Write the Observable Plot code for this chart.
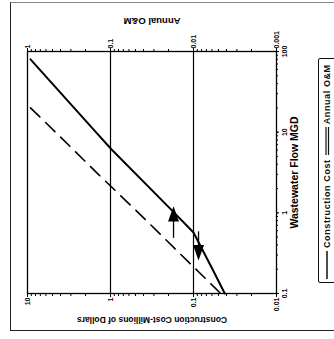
<!DOCTYPE html>
<html><head><meta charset="utf-8">
<script src="https://cdn.jsdelivr.net/npm/d3@7"></script>
<script src="https://cdn.jsdelivr.net/npm/@observablehq/plot@0.6"></script>
<style>
html,body{margin:0;padding:0;background:#fff;}
#page{position:relative;width:334px;height:339px;overflow:hidden;background:#fff;}
#rot{position:absolute;left:0;top:0;width:339px;height:334px;transform-origin:0 0;transform:translate(0px,339px) rotate(-90deg);font-family:"Liberation Sans",Arial,sans-serif;}
#border{position:absolute;left:8px;top:10px;width:329px;height:340px;border-top:1.5px solid #222;border-left:1.5px solid #222;border-right:1px solid #888;box-sizing:border-box;pointer-events:none;}
#chart{position:absolute;left:0;top:0;}
#legend{position:absolute;left:56px;top:318px;width:225px;height:24px;border:1.3px solid #111;border-radius:2px;box-sizing:border-box;display:flex;align-items:center;padding:0 0 6px 3px;font-size:9px;font-weight:bold;letter-spacing:0.6px;color:#111;background:#fff;overflow:hidden;}
#legend span{white-space:nowrap;}
#legend svg{display:block;flex:none;}
</style>
</head><body>
<div id="page"><div id="rot"><div id="chart"></div><div id="legend"></div><div id="border"></div></div></div>
<script>
// Wastewater flow (MGD) vs construction cost (millions of dollars)
const costFlow = [80, 10, 6.1, 1, 0.57, 0.2, 0.1];
const constructionCost = [9.2, 1.5, 0.97, 0.17, 0.1, 0.059, 0.042];
// Wastewater flow (MGD) vs annual O&M (millions of dollars)
const omFlow = [20, 10, 3, 1, 0.3, 0.1];
const annualOM = [0.92, 0.46, 0.14, 0.046, 0.014, 0.0047];
// indicator arrows: position on cost axis, flow from -> to
const arrowPos = [0.174, 0.087];
const arrowFrom = [0.49, 0.59];
const arrowTo = [0.97, 0.32];
// ticks
const flowTicks = [0.1, 1, 10, 100];
const costTicks = [0.01, 0.1, 1, 10];
const costTickLabels = ["0.01", "0.1", "1", "10"];
const omTickLabels = ["0.001", "0.01", "0.1", "1"];
const costGrid = [0.1, 1];
const seriesNames = ["Construction Cost", "Annual O&M"];

const costRows = costFlow.map((f, i) => ({flow: f, value: constructionCost[i]}));
const omRows = omFlow.map((f, i) => ({flow: f, value: annualOM[i]}));
const arrowRows = arrowPos.map((p, i) => ({pos: p, from: arrowFrom[i], to: arrowTo[i]}));

const triRight = {draw(ctx, size){const s=Math.sqrt(size/Math.PI); ctx.moveTo(1.4*s,0); ctx.lineTo(-1.4*s,-s); ctx.lineTo(-1.4*s,s); ctx.closePath();}};
const triLeft = {draw(ctx, size){const s=Math.sqrt(size/Math.PI); ctx.moveTo(-1.4*s,0); ctx.lineTo(1.4*s,-s); ctx.lineTo(1.4*s,s); ctx.closePath();}};

const H = 312;
const chart = Plot.plot({
  width: 339, height: H,
  marginLeft: 45, marginRight: 52, marginTop: 27, marginBottom: H - 276,
  x: {type: "log", domain: [0.1, 100]},
  y: {type: "log", domain: [0.01, 10]},
  style: {fontFamily: "'Liberation Sans', Arial, sans-serif", fontSize: "7px", color: "black", background: "transparent", overflow: "visible"},
  marks: [
    Plot.ruleY(costGrid, {stroke: "black", strokeWidth: 1.2}),
    Plot.frame({stroke: "black", strokeWidth: 1.3}),
    // minor ticks
    Plot.axisX({ticks: 40, tickSize: 2, tickFormat: () => "", label: null, strokeWidth: 1}),
    Plot.axisY({ticks: 40, tickSize: 2, tickFormat: () => "", label: null, strokeWidth: 1}),
    Plot.axisY({anchor: "right", ticks: 40, tickSize: 2, tickFormat: () => "", label: null, strokeWidth: 1}),
    // major ticks + labels
    Plot.axisX(flowTicks, {tickSize: 3, tickPadding: 3, tickFormat: d => String(d), label: null, fontWeight: "bold"}),
    Plot.axisY(costTicks, {tickSize: 3, tickPadding: 1, tickFormat: d => costTickLabels[costTicks.indexOf(d)], label: null, fontWeight: "bold"}),
    Plot.axisY(costTicks, {anchor: "right", tickSize: 3, tickPadding: 0, tickFormat: d => omTickLabels[costTicks.indexOf(d)], label: null, fontWeight: "bold"}),
    // titles
    Plot.text(["Wastewater Flow MGD"], {text: d => d, frameAnchor: "bottom", textAnchor: "middle", dy: 21, fontSize: 10.5, fontWeight: "bold", letterSpacing: "1.4px"}),
    Plot.text(["Construction Cost-Millions of Dollars"], {text: d => d, frameAnchor: "left", textAnchor: "middle", dx: -26, rotate: -90, fontSize: 8.5, fontWeight: "bold", letterSpacing: "0.3px"}),
    Plot.text(["Annual O&M"], {text: d => d, frameAnchor: "right", textAnchor: "middle", dx: 30, rotate: -90, fontSize: 9.5, fontWeight: "bold"}),
    // series
    Plot.line(costRows, {x: "flow", y: "value", stroke: "black", strokeWidth: 2}),
    Plot.line(omRows, {x: "flow", y: d => d.value * 10, stroke: "black", strokeWidth: 1.6, strokeDasharray: "13,8"}),
    // arrows
    Plot.link(arrowRows, {x1: "from", x2: "to", y1: "pos", y2: "pos", stroke: "black", strokeWidth: 1.3}),
    Plot.dot([arrowRows[0]], {x: "to", y: "pos", r: 5.5, symbol: triRight, fill: "black", stroke: "none"}),
    Plot.dot([arrowRows[1]], {x: "to", y: "pos", r: 5.5, symbol: triLeft, fill: "black", stroke: "none"})
  ]
});
document.getElementById("chart").appendChild(chart);

// legend
const lg = document.getElementById("legend");
function sample(double){
  const ns = "http://www.w3.org/2000/svg";
  const s = document.createElementNS(ns, "svg");
  s.setAttribute("width", 28); s.setAttribute("height", 8);
  const ys = double ? [3, 5.5] : [4];
  ys.forEach(y => {
    const l = document.createElementNS(ns, "line");
    l.setAttribute("x1", 0); l.setAttribute("x2", 28); l.setAttribute("y1", y); l.setAttribute("y2", y);
    l.setAttribute("stroke", "#111"); l.setAttribute("stroke-width", double ? 1.2 : 1.5);
    s.appendChild(l);
  });
  return s;
}
lg.appendChild(sample(false));
const t1 = document.createElement("span"); t1.textContent = seriesNames[0]; t1.style.margin = "0 4px 0 3px"; lg.appendChild(t1);
lg.appendChild(sample(true));
const t2 = document.createElement("span"); t2.textContent = seriesNames[1]; t2.style.marginLeft = "3px"; lg.appendChild(t2);
</script>
</body></html>
